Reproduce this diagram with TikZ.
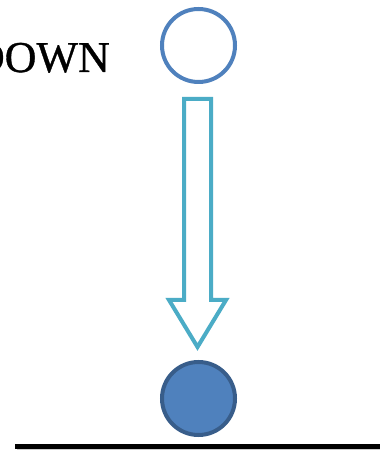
\documentclass[tikz,border=0pt]{standalone}
\usepackage{fontspec}
\setmainfont{Liberation Serif}
\newfontfamily\labelfont[FakeBold=0.8]{Liberation Serif}
\definecolor{ballblue}{HTML}{4F81BD}
\definecolor{balledge}{HTML}{385D8A}
\definecolor{arrowcyan}{HTML}{4BACC6}
\begin{document}
\begin{tikzpicture}[x=1pt,y=1pt,
  ball/.style={circle,minimum size=73pt,inner sep=0pt,line width=4pt},
  blockarrow/.style={draw=arrowcyan,line width=4pt,line join=miter,fill=white}]
\useasboundingbox (0,0) rectangle (380,452);
\fill[white] (0,0) rectangle (380,452);
% label
\node[anchor=base east,inner sep=0pt,font=\labelfont\fontsize{44}{44}\selectfont] (lbl) at (110,380) {DOWN};
% balls
\node[ball,draw=ballblue] (top) at (198.5,406.5) {};
\node[ball,draw=balledge,fill=ballblue] (bot) at (198.5,53.5) {};
% block arrow
\draw[blockarrow] (184,353) -- (211,353) -- (211,152) -- (226,152) -- (197.5,105) -- (169,152) -- (184,152) -- cycle;
% ground
\fill[gray!40] (17,2) rectangle (380,5);
\fill[black] (15,3) rectangle (380,8);
\end{tikzpicture}
\end{document}
